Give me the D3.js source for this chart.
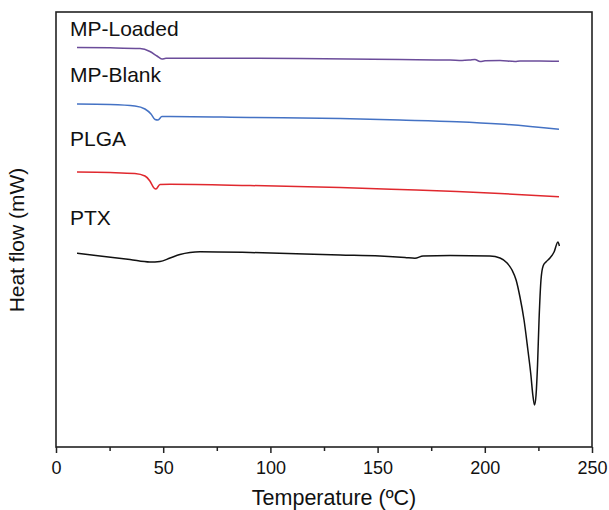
<!DOCTYPE html>
<html><head><meta charset="utf-8">
<script src="https://cdn.jsdelivr.net/npm/d3@7"></script>
<style>body{margin:0;background:#fff}svg{display:block}</style>
</head><body>
<script>
// ---- Data (heat flow in arbitrary units, curves offset) ----
const seriesNames = ["MP-Loaded", "MP-Blank", "PLGA", "PTX"];
const seriesColors = ["#6b4c9a", "#4472c4", "#e0282e", "#111111"];

const tempLoaded = [9.8,25.2,39.2,43.8,47.1,49.4,51.3,67.2,113.8,160.4,183.8,189.4,193.1,195.4,197.8,200.1,207.1,214.1,216.4,225.7,234.6];
const flowLoaded = [39.95,39.92,39.85,39.55,39.1,38.8,38.87,38.87,38.85,38.75,38.7,38.65,38.7,38.75,38.55,38.62,38.65,38.55,38.6,38.6,38.57];

const tempBlank = [9.8,25.2,36.8,41.5,44.3,46.2,47.6,49.4,53.2,90.5,132.5,160.4,187,207.1,234.6];
const flowBlank = [34.3,34.25,34.1,33.8,33.3,32.75,32.7,33.05,33.05,32.95,32.85,32.7,32.53,32.3,31.77];

const tempPLGA = [9.8,25.2,36.8,41.5,43.8,45.7,46.6,48.5,53.2,90.5,132.5,160.4,187,207.1,234.6];
const flowPLGA = [27.5,27.45,27.35,27.1,26.6,25.9,25.8,26.25,26.27,26.15,25.95,25.75,25.55,25.35,25.03];

const tempPTX = [9.8,20.5,34.5,43.8,48.5,53.2,57.8,62.5,67.2,90.5,132.5,151.1,162.8,167.4,171.2,183.8,202.4,207.1,210.4,212.7,214.6,216.4,218.3,220.1,221.5,222.4,223.2,223.9,224.6,225.3,226.2,227.2,228.5,230.4,232.3,234.1,234.8];
const flowPTX = [19.37,19.1,18.75,18.5,18.55,18.9,19.25,19.45,19.52,19.45,19.2,19.1,18.95,18.87,19.1,19.15,19.1,18.9,18.4,17.7,16.7,15.0,12.7,9.7,7.2,5.2,4.2,5.2,8.2,12.7,16.7,18.1,18.5,18.9,19.5,20.5,20.1];

const xTicks = [0, 50, 100, 150, 200, 250];
const xMinorTicks = [25, 75, 125, 175, 225];
const xTitle = "Temperature (ºC)";
const yTitle = "Heat flow (mW)";

// ---- Layout ----
const W = 609, H = 510;
const L = 56, R = 592, T = 12, B = 447;

const svg = d3.select("body").append("svg").attr("width", W).attr("height", H);
const font = "Arial, 'Liberation Sans', sans-serif";

const x = d3.scaleLinear().domain([0, 250]).range([L, R]);
const y = d3.scaleLinear().domain([0, 43.5]).range([B, T]);

const series = [
  {name: seriesNames[0], color: seriesColors[0], t: tempLoaded, v: flowLoaded, lx: 70, ly: 35.5},
  {name: seriesNames[1], color: seriesColors[1], t: tempBlank, v: flowBlank, lx: 70, ly: 81.5},
  {name: seriesNames[2], color: seriesColors[2], t: tempPLGA, v: flowPLGA, lx: 70, ly: 146},
  {name: seriesNames[3], color: seriesColors[3], t: tempPTX, v: flowPTX, lx: 70, ly: 225}
];

const line = d3.line().x(d => x(d[0])).y(d => y(d[1])).curve(d3.curveMonotoneX);

series.forEach(s => {
  svg.append("path")
    .datum(s.t.map((t, i) => [t, s.v[i]]))
    .attr("fill", "none").attr("stroke", s.color).attr("stroke-width", 1.5)
    .attr("stroke-linejoin", "round")
    .attr("d", line);
  svg.append("text").attr("x", s.lx).attr("y", s.ly)
    .attr("font-family", font).attr("font-size", 21).attr("fill", "#111")
    .text(s.name);
});

// frame
svg.append("rect").attr("x", L).attr("y", T).attr("width", R - L).attr("height", B - T)
  .attr("fill", "none").attr("stroke", "#222").attr("stroke-width", 1.6);

// x axis
const xAxis = svg.append("g").attr("transform", `translate(0,${B})`)
  .call(d3.axisBottom(x).tickValues(xTicks).tickSize(6).tickPadding(8).tickFormat(d3.format("d")));
xAxis.select(".domain").remove();
xAxis.selectAll("line").attr("stroke", "#222").attr("stroke-width", 1.5);
xAxis.selectAll("text").attr("font-family", font).attr("font-size", 18).attr("fill", "#111");

const xMinor = svg.append("g").attr("transform", `translate(0,${B})`)
  .call(d3.axisBottom(x).tickValues(xMinorTicks).tickSize(4).tickFormat(""));
xMinor.select(".domain").remove();
xMinor.selectAll("line").attr("stroke", "#222").attr("stroke-width", 1.5);

svg.append("text").attr("x", 334).attr("y", 505).attr("text-anchor", "middle")
  .attr("font-family", font).attr("font-size", 21.5).attr("fill", "#111").text(xTitle);

svg.append("text").attr("transform", `translate(24,240) rotate(-90)`).attr("text-anchor", "middle")
  .attr("font-family", font).attr("font-size", 21).attr("fill", "#111").text(yTitle);
</script>
</body></html>
